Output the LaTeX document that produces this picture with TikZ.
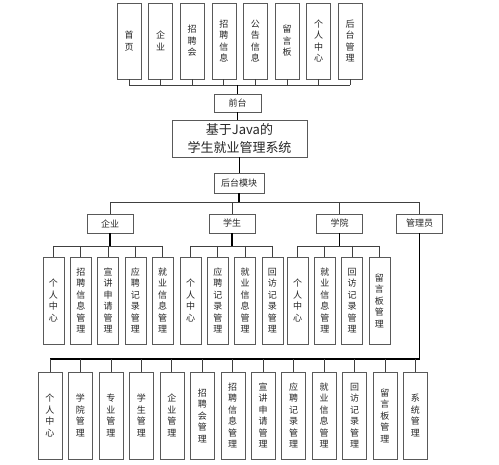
\documentclass[tikz,border=0pt]{standalone}
\usepackage{fontspec}
\setmainfont{Noto Sans CJK SC}
\usetikzlibrary{positioning}
\tikzset{
  box/.style = {draw = gray!70!black, fill = white, inner sep = 0pt, text = black!85, font = \fontsize{9}{11.5}\selectfont},
  flatbox/.style = {box, minimum height = 19pt, minimum width = 46pt},
  tallbox/.style = {box, align = center, text width = 12pt, minimum width = 24pt},
  thinbox/.style = {box, align = center, text width = 12pt, minimum width = 21pt, minimum height = 87pt},
  link/.style = {draw = black!75, line width = 0.7pt},
  trunk/.style = {draw = black, line width = 1.1pt}
}
\begin{document}
\begin{tikzpicture}[x = 1pt, y = -1pt]
\useasboundingbox (0,0) rectangle (499,465);

% front end
\foreach \txt [count = \i from 0] in {首\\页, 企\\业, 招\\聘\\会, 招\\聘\\信\\息, 公\\告\\信\\息, 留\\言\\板, 个\\人\\中\\心, 后\\台\\管\\理}
   \node[tallbox, minimum height = 76pt] (top\i) at (129 + \i*31.6, 41) {\txt};

\coordinate (b1) at (239,85);
\node[flatbox, minimum width = 47pt, minimum height = 18pt] (qt) at (237.5,103) {前台};
\node[box, minimum width = 135pt, minimum height = 37pt, align = center, font = \fontsize{13}{18}\selectfont] (sys) at (239.5,138.5) {基于Java的\\学生就业管理系统};
\node[flatbox, minimum width = 50pt, minimum height = 20pt] (ht) at (239,183) {后台模块};

\foreach \i in {0,...,7}
   \draw[link] (top\i.south) -- (top\i |- b1);
\draw[link] (top0 |- b1) -- (top7 |- b1);
\draw[trunk] (qt |- b1) -- (qt.north);
\draw[trunk] (qt.south) -- (qt |- sys.north);
\draw[trunk] (sys.south) -- (sys |- ht.north);

% back end roles
\coordinate (b2) at (239,202.5);
\node[flatbox] (qy) at (110,223.5) {企业};
\node[flatbox] (xs) at (232,223.5) {学生};
\node[flatbox] (xy) at (339.5,223.5) {学院};
\node[flatbox] (gly) at (419.5,223.5) {管理员};

\draw[trunk] (ht.south) -- (ht |- b2);
\draw[link] (qy |- b2) -- (gly |- b2);
\foreach \r in {qy, xs, xy, gly}
   \draw[link] (\r |- b2) -- (\r.north);

\coordinate (b3) at (0,246);
\foreach \txt [count = \i from 0] in {个\\人\\中\\心, 招\\聘\\信\\息\\管\\理, 宣\\讲\\申\\请\\管\\理, 应\\聘\\记\\录\\管\\理, 就\\业\\信\\息\\管\\理}
   \node[thinbox] (qy\i) at (53.5 + \i*27.3, 300.5) {\txt};
\foreach \txt [count = \i from 0] in {个\\人\\中\\心, 应\\聘\\记\\录\\管\\理, 就\\业\\信\\息\\管\\理, 回\\访\\记\\录\\管\\理}
   \node[thinbox] (xs\i) at (190.5 + \i*27.3, 300.5) {\txt};
\foreach \txt [count = \i from 0] in {个\\人\\中\\心, 就\\业\\信\\息\\管\\理, 回\\访\\记\\录\\管\\理, 留\\言\\板\\管\\理}
   \node[thinbox] (xy\i) at (297.5 + \i*27.3, 300.5) {\txt};

\draw[trunk] (qy.south) -- (qy |- b3);
\draw[trunk] (xs.south) -- (xs |- b3);
\draw[trunk] (xy.south) -- (xy |- b3);
\draw[link] (qy0 |- b3) -- (qy4 |- b3);
\draw[link] (xs0 |- b3) -- (xs3 |- b3);
\draw[link] (xy0 |- b3) -- (xy3 |- b3);
\foreach \i in {0,...,4}
   \draw[link] (qy\i |- b3) -- (qy\i.north);
\foreach \i in {0,...,3}{
   \draw[link] (xs\i |- b3) -- (xs\i.north);
   \draw[link] (xy\i |- b3) -- (xy\i.north);
   }

% administrator
\coordinate (b4) at (419.5,359);
\foreach \txt [count = \i from 0] in {个\\人\\中\\心, 学\\院\\管\\理, 专\\业\\管\\理, 学\\生\\管\\理, 企\\业\\管\\理, 招\\聘\\会\\管\\理, 招\\聘\\信\\息\\管\\理, 宣\\讲\\申\\请\\管\\理, 应\\聘\\记\\录\\管\\理, 就\\业\\信\\息\\管\\理, 回\\访\\记\\录\\管\\理, 留\\言\\板\\管\\理, 系\\统\\管\\理}
   \node[tallbox, minimum height = 87pt] (gl\i) at (50 + \i*30.45, 415.5) {\txt};

\draw[trunk] (gly.south) -- (b4);
\draw[trunk] (gl0 |- b4) -- (b4);
\foreach \i in {0,...,12}
   \draw[link] (gl\i |- b4) -- (gl\i.north);
\end{tikzpicture}
\end{document}
